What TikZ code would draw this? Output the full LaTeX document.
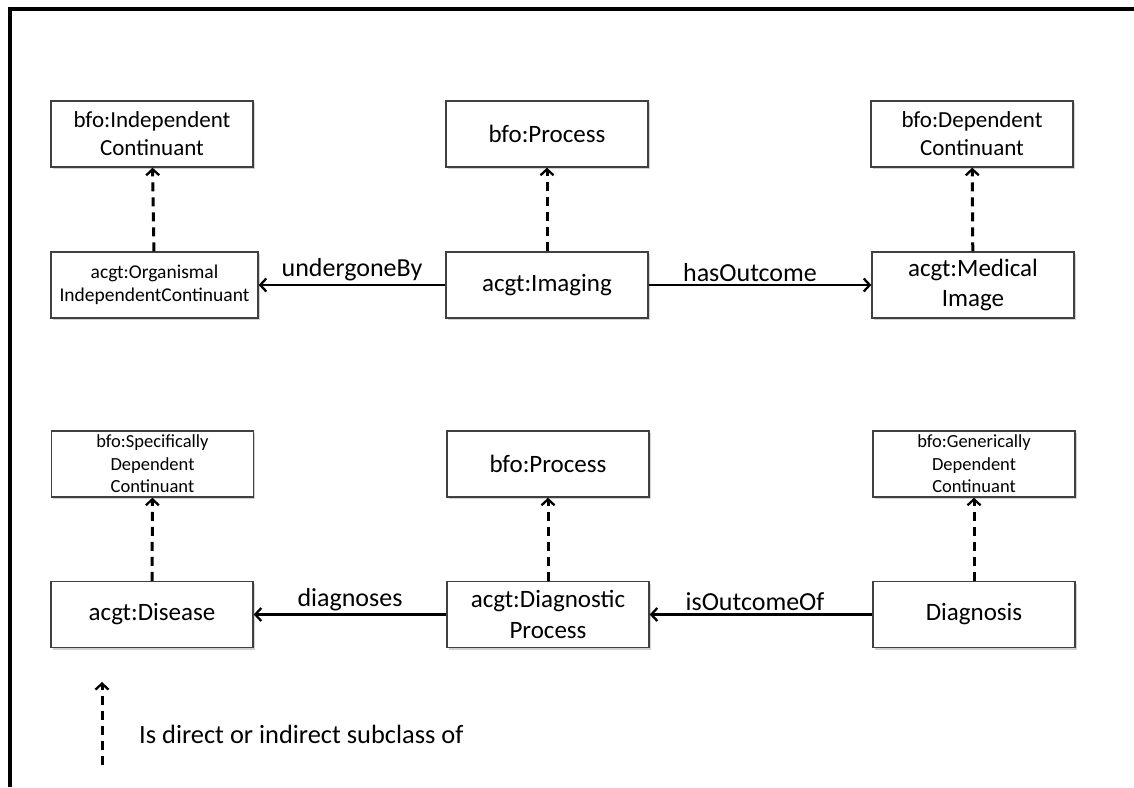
\documentclass[tikz,border=0pt]{standalone}
\usepackage{fontspec}
\setmainfont{Carlito}
\usetikzlibrary{arrows.meta,shadows}

\begin{document}
\begin{tikzpicture}[x=1pt,y=-1pt,
  cls/.style={draw=black!75,line width=1.4pt,fill=white,minimum width=202pt,minimum height=66pt,
    align=center,inner sep=0pt,
    drop shadow={shadow xshift=1.5pt,shadow yshift=-2pt,opacity=0.3,fill=black!60}},
  txtL/.style={font=\fontsize{25}{30.5}\selectfont},
  txtE/.style={font=\fontsize{26}{31}\selectfont},
  txtM/.style={font=\fontsize{23}{28}\selectfont},
  txtS/.style={font=\fontsize{19.5}{23.4}\selectfont},
  txtXS/.style={font=\fontsize{18.5}{22.5}\selectfont},
  rel/.style={line width=2.8pt,-{Straight Barb[length=6pt,width=13pt,line width=2.3pt]}},
  sub/.style={line width=3pt,dash pattern=on 9pt off 6pt,-{Straight Barb[length=6pt,width=13pt,line width=2.3pt]}}]
  \useasboundingbox (0,0) rectangle (1134,787);
  % frame
  \draw[line width=4pt] (10,787) -- (10,9) -- (1134,9);
  % imaging
  \node[cls,txtM] (indep) at (152,134) {bfo:Independent\\Continuant};
  \node[cls,txtL] (proc1) at (547,134) {bfo:Process};
  \node[cls,txtM] (dep) at (972,134) {bfo:Dependent\\Continuant};
  \node[cls,txtS,minimum width=207pt] (organ) at (154.5,285) {acgt:Organismal\\IndependentContinuant};
  \node[cls,txtL] (imaging) at (547,285) {acgt:Imaging};
  \node[cls,txtL] (medimg) at (973,285) {acgt:Medical\\Image};
  \draw[sub] (organ) -- (indep);
  \draw[sub] (imaging) -- (proc1);
  \draw[sub] (medimg) -- (dep);
  \draw[rel] (imaging) -- node[above=-1pt,txtE]{undergoneBy} (organ);
  \draw[rel] (imaging) -- node[above=-1pt,txtE,xshift=-10pt]{hasOutcome} (medimg);
  % diagnosis
  \node[cls,txtXS] (spec) at (152.5,464) {bfo:Specifically\\Dependent\\Continuant};
  \node[cls,txtL] (proc2) at (548,464) {bfo:Process};
  \node[cls,txtXS] (generic) at (974,464) {bfo:Generically\\Dependent\\Continuant};
  \node[cls,txtL] (disease) at (152,614.5) {acgt:Disease};
  \node[cls,txtL] (diagproc) at (548,614.5) {acgt:Diagnostic\\Process};
  \node[cls,txtL] (diagnosis) at (974,614.5) {Diagnosis};
  \draw[sub] (disease) -- (spec);
  \draw[sub] (diagproc) -- (proc2);
  \draw[sub] (diagnosis) -- (generic);
  \draw[rel] (diagproc) -- node[above=-1pt,txtE]{diagnoses} (disease);
  \draw[rel] (diagnosis) -- node[above=-1pt,txtE,xshift=-6pt]{isOutcomeOf} (diagproc);
  % legend
  \coordinate (legbot) at (102,765);
  \coordinate (legtop) at (102,682);
  \draw[sub] (legbot) -- (legtop);
  \node[font=\fontsize{26.4}{31}\selectfont,anchor=west,inner sep=0pt] (legtxt) at (139,734) {Is direct or indirect subclass of};
\end{tikzpicture}
\end{document}
